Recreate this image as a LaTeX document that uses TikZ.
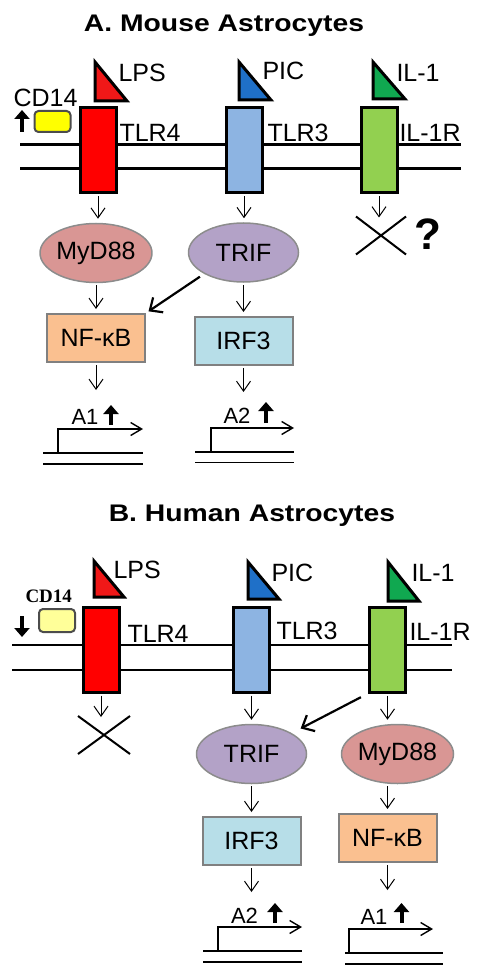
\documentclass[tikz,border=0pt]{standalone}
\usepackage{fontspec}
\setmainfont{Liberation Sans}
\newfontfamily\titlefont[FakeStretch=1.18]{Liberation Sans}
\newfontfamily\cdfont{Liberation Serif}
\usetikzlibrary{arrows.meta,shapes.geometric,shapes.misc}

\definecolor{tlrred}{HTML}{FF0000}
\definecolor{lpsred}{HTML}{F01818}
\definecolor{picblue}{HTML}{1F70C8}
\definecolor{ilgreen}{HTML}{10A850}
\definecolor{tlrblue}{HTML}{8DB4E2}
\definecolor{ilrgreen}{HTML}{92D050}
\definecolor{cdyellow}{HTML}{FFFF00}
\definecolor{cdpale}{HTML}{FFFF99}
\definecolor{mydpink}{HTML}{D99694}
\definecolor{triflila}{HTML}{B3A2C7}
\definecolor{nfkborange}{HTML}{FAC090}
\definecolor{irfblue}{HTML}{B7DEE8}

\begin{document}
\begin{tikzpicture}[
    x = 1pt, y = -1pt, % pixel grid, y runs down
    > = {Straight Barb[length=10pt,width=14pt]}, % open arrow head
    node distance = 100pt,
    line width = 1pt
  ]

  \tikzstyle{heading}=[font=\titlefont\bfseries\fontsize{24}{28}\selectfont, inner sep=0pt, anchor=base]
  \tikzstyle{lbl}=[font=\fontsize{25}{29}\selectfont, inner sep=0pt, anchor=west]
  \tikzstyle{receptor}=[rectangle, draw=black, line width=3pt, minimum width=36pt, minimum height=85pt]
  \tikzstyle{ligand}=[draw=black, line width=3pt, line join=miter]
  \tikzstyle{cdbox}=[rectangle, rounded corners=4pt, draw=black!70, line width=2pt, minimum width=36pt, minimum height=21pt]
  \tikzstyle{adaptor}=[ellipse, draw=black!45, line width=1.5pt, minimum width=110pt, minimum height=59pt, inner sep=0pt, font=\fontsize{25}{29}\selectfont]
  \tikzstyle{factor}=[rectangle, draw=black!50, line width=2pt, minimum width=98pt, minimum height=48pt, inner sep=0pt, font=\fontsize{25}{29}\selectfont]
  \tikzstyle{blocked}=[cross out, draw=black, line width=2pt, minimum width=48pt, minimum height=36pt, inner sep=0pt]
  \tikzstyle{sig}=[->, line width=1pt, shorten <=2pt, shorten >=4pt]
  \tikzstyle{crosstalk}=[-{Straight Barb[length=10pt,width=18pt]}, line width=2.2pt]
  \tikzstyle{membrane}=[line width=2.5pt]
  \tikzstyle{gene}=[line width=1.5pt]
  \tikzstyle{promoter}=[-{Straight Barb[length=11pt,width=13pt]}, line width=1.4pt]
  \tikzstyle{genelbl}=[font=\fontsize{22}{26}\selectfont, inner sep=0pt]
  \tikzstyle{boldup}=[-{Triangle[length=9pt,width=15pt]}, line width=4pt]

  \useasboundingbox (0,0) rectangle (478,973);

  % A. mouse
  \node[heading] (titleA) at (224,31.5) {A. Mouse Astrocytes};

  \draw[membrane] (20,144.5) -- (461,144.5);
  \draw[membrane] (20,168.5) -- (461,168.5);

  \node[receptor, fill=tlrred] (tlr4A) at (98,150.5) {};
  \node[receptor, fill=tlrblue] (tlr3A) [right of=tlr4A, node distance=146pt] {};
  \node[receptor, fill=ilrgreen] (il1rA) [right of=tlr3A, node distance=135pt] {};

  \draw[ligand, fill=lpsred] (95,62) -- (95,101) -- (127,101) -- cycle;
  \draw[ligand, fill=picblue] (239,62) -- (239,100) -- (271,100) -- cycle;
  \draw[ligand, fill=ilgreen] (373,62) -- (373,99) -- (405,99) -- cycle;

  \node[lbl] (lpsA) at (118,72.5) {LPS};
  \node[lbl] (picA) at (262,71) {PIC};
  \node[lbl] (il1A) at (396,72.5) {IL-1};
  \node[lbl] (tlr4Alab) at (119,132.5) {TLR4};
  \node[lbl] (tlr3Alab) at (267,132.5) {TLR3};
  \node[lbl] (il1rAlab) at (399,132.5) {IL-1R};

  \node[cdbox, fill=cdyellow] (cd14A) at (52.5,121.5) {};
  \node[lbl] (cd14Alab) at (13,98) {CD14};
  \draw[boldup] (22,132) -- (22,110);

  \node[adaptor, fill=mydpink] (myA) at (96,253) {MyD88};
  \node[adaptor, fill=triflila] (trifA) at (243.5,252.5) {TRIF};
  \node[blocked] (blockA) at (381,235.5) {};
  \node[font=\bfseries\fontsize{44}{48}\selectfont, inner sep=0pt] (whyA) at (427.5,234) {?};

  \node[factor, fill=nfkborange] (nfkbA) [below of=myA, node distance=85pt] {NF-κB};
  \node[factor, fill=irfblue] (irf3A) [below of=trifA, node distance=88.5pt] {IRF3};

  \draw[sig] (tlr4A.south) -- (tlr4A.south |- myA.north);
  \draw[sig] (tlr3A.south) -- (tlr3A.south |- trifA.north);
  \draw[sig, shorten >=-1pt] (il1rA.south) -- (il1rA.south |- blockA.north);
  \draw[sig] (myA.south) -- (myA.south |- nfkbA.north);
  \draw[sig] (trifA.south) -- (trifA.south |- irf3A.north);
  \draw[crosstalk, shorten <=5pt, shorten >=3pt] (trifA.south west) -- (nfkbA.north east);

  \coordinate (a1Aend) at (96,390);
  \coordinate (a2Aend) at (243.5,392);
  \draw[sig, shorten >=0pt] (nfkbA.south) -- (a1Aend);
  \draw[sig, shorten >=0pt] (irf3A.south) -- (a2Aend);

  \draw[gene] (43,453) -- (143,453);
  \draw[gene] (43,464) -- (143,464);
  \draw[promoter] (58,453) -- (58,429) -- (143,429);
  \node[genelbl] (a1A) at (85,417) {A1};
  \draw[boldup] (111,425) -- (111,405);

  \draw[gene] (195,452) -- (294,452);
  \draw[gene] (195,462.5) -- (294,462.5);
  \draw[promoter] (211,452) -- (211,428) -- (294,428);
  \node[genelbl] (a2A) at (237,416) {A2};
  \draw[boldup] (266,423) -- (266,402);

  % B. human
  \node[heading] (titleB) at (252,521.5) {B. Human Astrocytes};

  \draw[membrane] (12,645) -- (452,645);
  \draw[membrane] (12,670) -- (452,670);

  \node[receptor, fill=tlrred] (tlr4B) at (101,649.5) {};
  \node[receptor, fill=tlrblue] (tlr3B) [right of=tlr4B, node distance=150.5pt] {};
  \node[receptor, fill=ilrgreen] (il1rB) [right of=tlr3B, node distance=136pt] {};

  \draw[ligand, fill=lpsred] (94,561) -- (94,597) -- (124,597) -- cycle;
  \draw[ligand, fill=picblue] (248,562) -- (248,599) -- (279,599) -- cycle;
  \draw[ligand, fill=ilgreen] (388,562) -- (388,601) -- (419,601) -- cycle;

  \node[lbl] (lpsB) at (113,570) {LPS};
  \node[lbl] (picB) at (271,572.5) {PIC};
  \node[lbl] (il1B) at (411,572.5) {IL-1};
  \node[lbl] (tlr4Blab) at (127,634) {TLR4};
  \node[lbl] (tlr3Blab) at (276,631) {TLR3};
  \node[lbl] (il1rBlab) at (409,632) {IL-1R};

  \node[cdbox, fill=cdpale, minimum height=23pt] (cd14B) at (57,620.5) {};
  \node[lbl, font=\cdfont\bfseries\fontsize{19}{22}\selectfont] (cd14Blab) at (25,596) {CD14};
  \draw[boldup] (22,616) -- (22,637);

  \node[blocked, minimum width=50pt] (blockB) at (104,735) {};
  \node[adaptor, fill=triflila] (trifB) [below of=tlr3B, node distance=104.5pt] {TRIF};
  \node[adaptor, fill=mydpink] (myB) at (397.5,754) {MyD88};
  \node[factor, fill=irfblue] (irf3B) [below of=trifB, node distance=87pt] {IRF3};
  \node[factor, fill=nfkborange] (nfkbB) at (387.5,838) {NF-κB};

  \draw[sig, shorten >=-1pt] (tlr4B.south) -- (tlr4B.south |- blockB.north);
  \draw[sig] (tlr3B.south) -- (tlr3B.south |- trifB.north);
  \draw[sig] (il1rB.south) -- (il1rB.south |- myB.north);
  \draw[crosstalk, shorten <=8pt, shorten >=10pt] (il1rB.south west) -- (trifB);
  \draw[sig] (trifB.south) -- (trifB.south |- irf3B.north);
  \draw[sig] (nfkbB.north |- myB.south) -- (nfkbB.north);

  \coordinate (a2Bend) at (251.5,892);
  \coordinate (a1Bend) at (387.5,890);
  \draw[sig, shorten >=0pt] (irf3B.south) -- (a2Bend);
  \draw[sig, shorten >=0pt] (nfkbB.south) -- (a1Bend);

  \draw[gene] (203,951) -- (302,951);
  \draw[gene] (203,962) -- (302,962);
  \draw[promoter] (218,951) -- (218,927) -- (302,927);
  \node[genelbl] (a2B) at (244.5,915.5) {A2};
  \draw[boldup] (275,923) -- (275,903);

  \draw[gene] (345,953) -- (443,953);
  \draw[gene] (345,964) -- (443,964);
  \draw[promoter] (349,953) -- (349,929) -- (433,929);
  \node[genelbl] (a1B) at (374,916.5) {A1};
  \draw[boldup] (401.5,923) -- (401.5,903);

\end{tikzpicture}
\end{document}
